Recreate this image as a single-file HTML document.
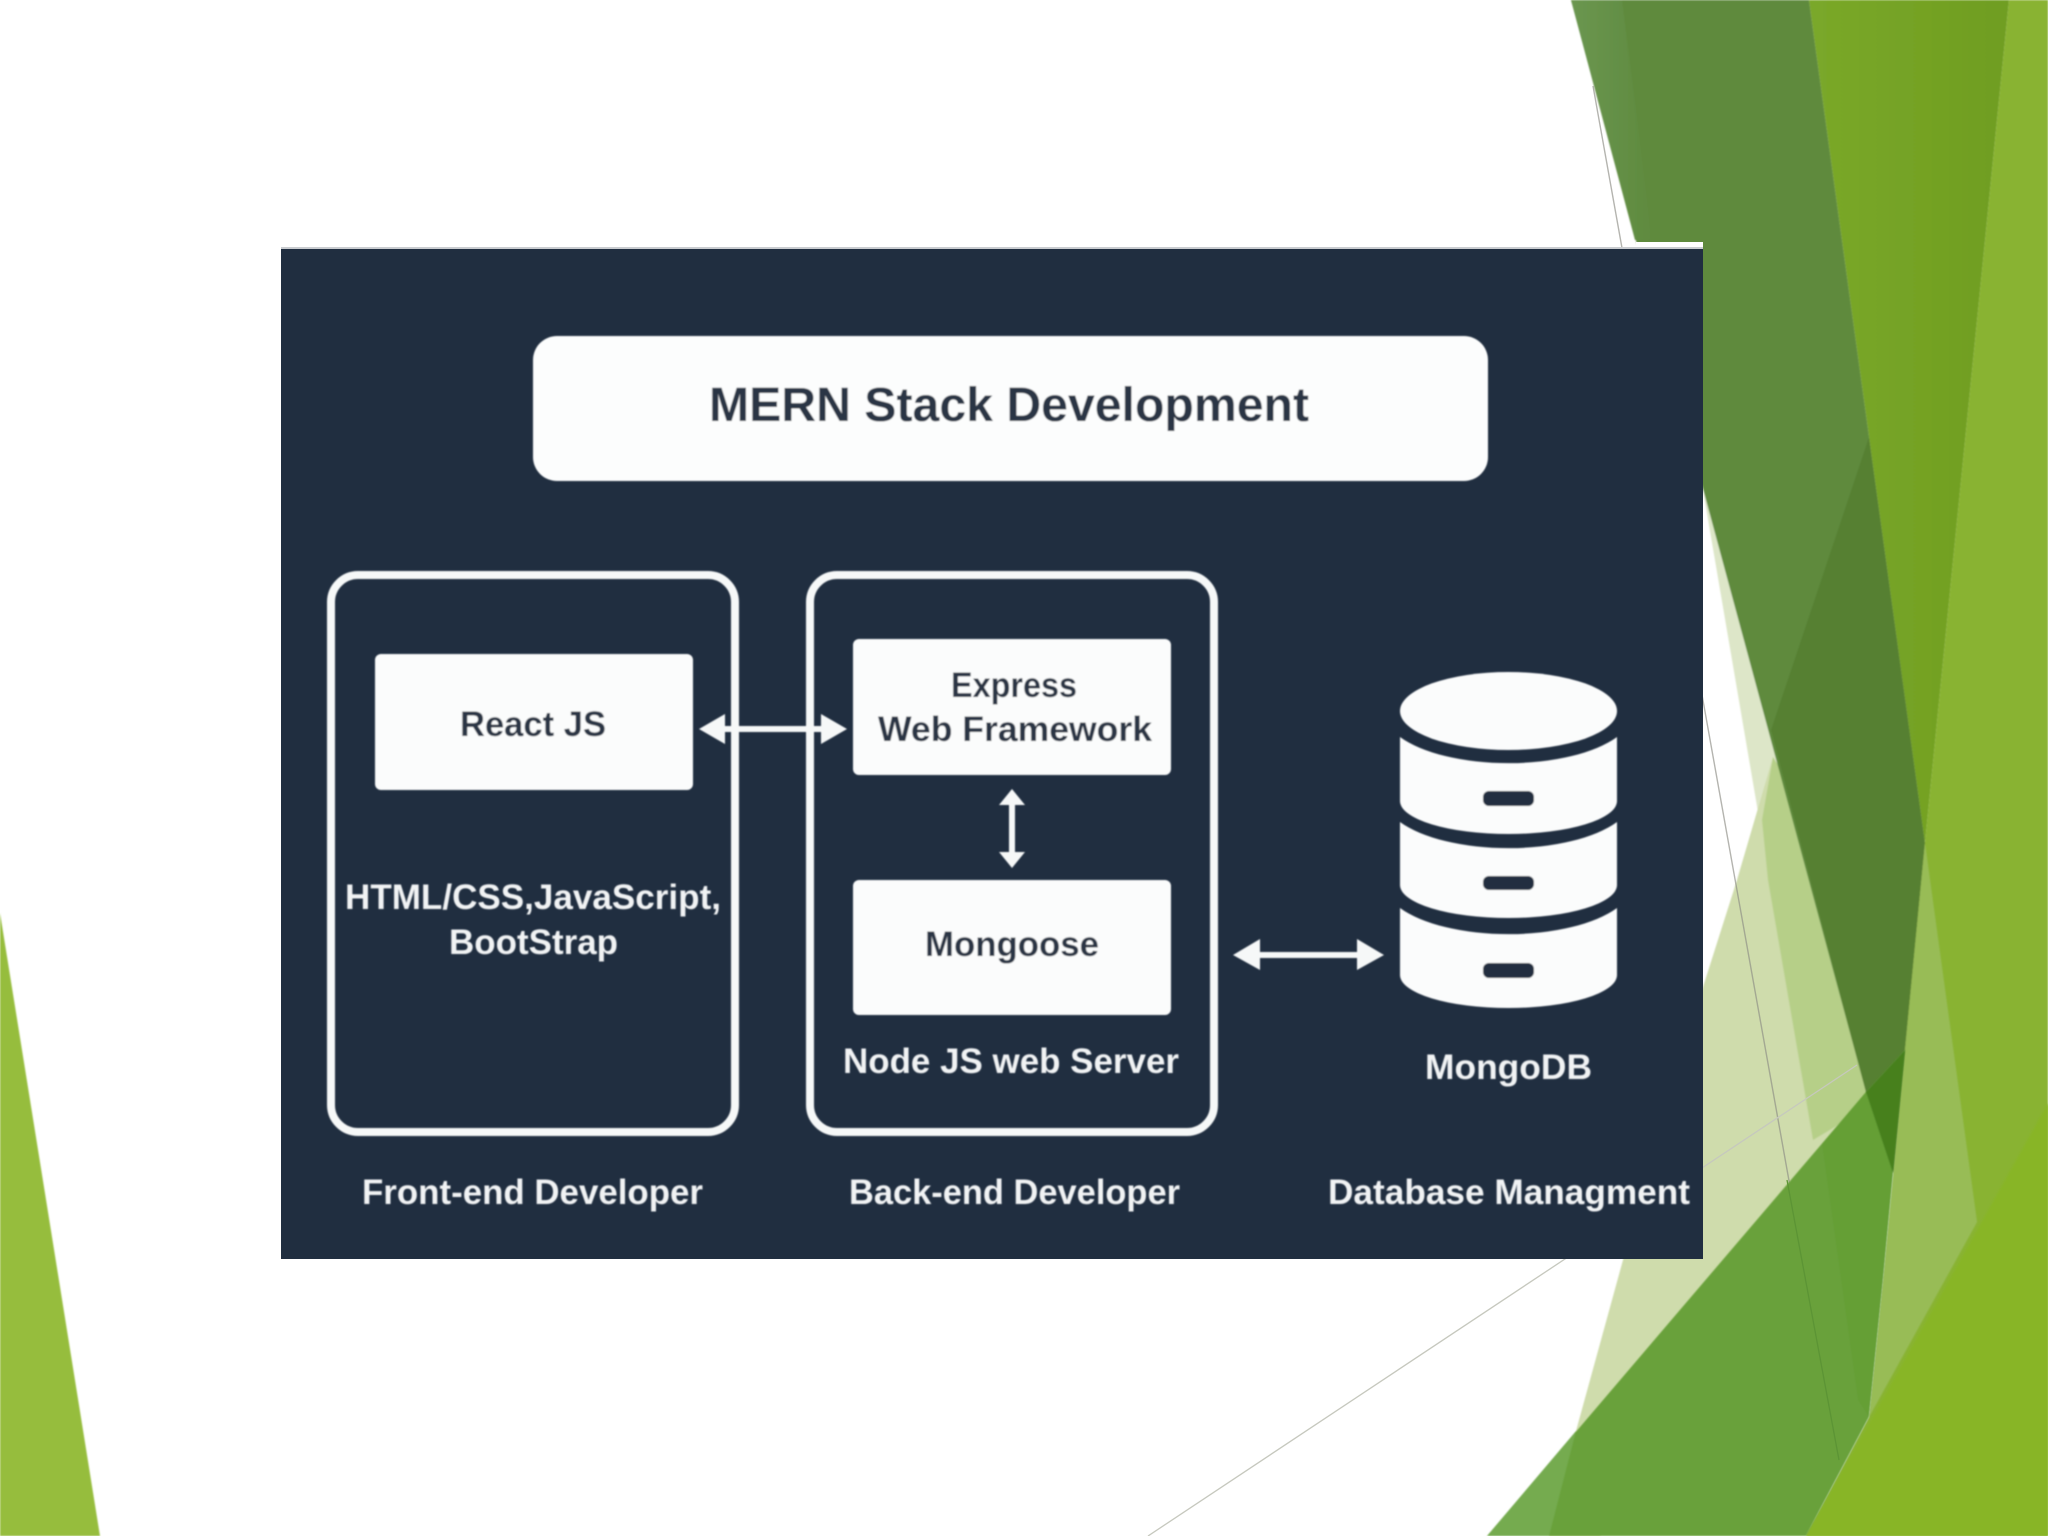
<!DOCTYPE html>
<html><head><meta charset="utf-8"><style>html,body{margin:0;padding:0;background:#fff;width:2048px;height:1536px;overflow:hidden}svg{display:block}text{font-family:"Liberation Sans",sans-serif;font-weight:700;text-anchor:start}</style></head><body>
<svg width="2048" height="1536" viewBox="0 0 2048 1536" xmlns="http://www.w3.org/2000/svg">
<defs>
<linearGradient id="mid" x1="0" y1="0" x2="1" y2="0"><stop offset="0" stop-color="#7aa829"/><stop offset="1" stop-color="#6f9d20"/></linearGradient>
<linearGradient id="band" x1="0" y1="0" x2="1" y2="0"><stop offset="0" stop-color="#6a9650"/><stop offset="1" stop-color="#5f8a3e"/></linearGradient>
<filter id="b" x="-10%" y="-10%" width="120%" height="120%"><feGaussianBlur stdDeviation="0.7"/></filter>
<filter id="s" x="-5%" y="-5%" width="110%" height="110%"><feGaussianBlur stdDeviation="0.8"/></filter>
</defs>
<rect width="2048" height="1536" fill="#fff"/>
<polygon points="0,913 100,1536 0,1536" fill="#96bd3c" filter="url(#s)"/>
<g filter="url(#s)">
<!-- pale -->
<polygon points="1703,490 1758,812 1795,800 1773,720" fill="#dde6c8"/>
<polygon points="1773,757 1737,880 1703,987 1623,1260 1576,1431 1549,1536 1600,1536 1880,1100" fill="#cfdcac"/>
<polygon points="1762,820 1768,880 1813,1140 1880,1100 1800,800 1773,757" fill="#b6cf88"/>
<!-- dark green -->
<polygon points="1571,0 1809,0 1925,843 1905,1050 1893,1173 1866,1092" fill="#5f8a3e"/>
<polygon points="1571,0 1622,0 1652,240 1635,240" fill="url(#band)"/>
<polygon points="1869,437 1925,843 1905,1050 1866,1092 1771,730" fill="#568030"/>
<!-- mid -->
<polygon points="1809,0 2009,0 1925,843" fill="url(#mid)"/>
<!-- lime -->
<polygon points="2009,0 2048,0 2048,1536 1806,1536 1869,1417 1883,1280 1905,1050 1925,843" fill="#89b331"/>
<polygon points="1925,843 1930,880 1977,1222 1869,1417 1883,1280 1905,1050" fill="#98bc57"/>
</g>
<!-- lines -->
<line x1="1593" y1="86" x2="1839" y2="1460" stroke="#8c8c84" stroke-opacity=".65" stroke-width="1.4"/>
<line x1="1857" y1="1065" x2="1148" y2="1536" stroke="#c6c8be" stroke-width="1.3"/>
<g filter="url(#s)">
<!-- triangle -->
<polygon points="1487,1536 1866,1092 1905,1050 1893,1173 1883,1280 1869,1417 1806,1536" fill="#69a13b"/>
<polygon points="1822,1144 1866,1092 1905,1050 1893,1173 1883,1280 1869,1417 1858,1400" fill="#659f36"/>
<polygon points="1487,1536 1576,1431 1549,1536" fill="#75ab4f"/>
<polygon points="1866,1092 1905,1050 1893,1173" fill="#47801e"/>
<polygon points="2048,1103 2048,1536 1806,1536" fill="#88b526"/>
</g>
<line x1="1787" y1="1180" x2="1839" y2="1460" stroke="#5c9435" stroke-width="1.3"/>
<!-- panel -->
<rect x="1636" y="242" width="67" height="8" fill="#fff"/>
<rect x="281" y="248" width="1422" height="1011" fill="#202e40"/>
<rect x="281" y="247" width="1422" height="2" fill="#c9ccd0"/>
<g filter="url(#b)">
<rect x="533" y="336" width="955" height="145" rx="24" fill="#fcfdfd"/>
<rect x="331" y="575" width="404" height="557" rx="27" fill="none" stroke="#f6f8f8" stroke-width="8"/>
<rect x="810" y="575" width="404" height="557" rx="27" fill="none" stroke="#f6f8f8" stroke-width="8"/>
<rect x="375" y="654" width="318" height="136" rx="6" fill="#fbfcfc"/>
<rect x="853" y="639" width="318" height="136" rx="6" fill="#fbfcfc"/>
<rect x="853" y="880" width="318" height="135" rx="6" fill="#fbfcfc"/>
<!-- arrows -->
<polygon points="699,729 725,714 725,726 821,726 821,714 847,729 821,744 821,732 725,732 725,744" fill="#f6f8f8"/>
<polygon points="1012,789 1025,805 1015,805 1015,852 1025,852 1012,868 999,852 1009,852 1009,805 999,805" fill="#f6f8f8"/>
<polygon points="1233,955 1260,939 1260,952 1357,952 1357,939 1384,955 1357,970 1357,958 1260,958 1260,970" fill="#f6f8f8"/>
<!-- database -->
<ellipse cx="1508.5" cy="711" rx="108.5" ry="39" fill="#fbfcfc"/>
<path d="M1400,737 A125 52 0 0 0 1617,737 V801 A108.5 33 0 0 1 1400,801 Z" fill="#fbfcfc"/>
<path d="M1400,822 A125 52 0 0 0 1617,822 V885 A108.5 33 0 0 1 1400,885 Z" fill="#fbfcfc"/>
<path d="M1400,908 A125 52 0 0 0 1617,908 V975 A108.5 33 0 0 1 1400,975 Z" fill="#fbfcfc"/>
<rect x="1483" y="791" width="51" height="15" rx="6" fill="#202e40"/>
<rect x="1483" y="876" width="51" height="14" rx="6" fill="#202e40"/>
<rect x="1483" y="963" width="51" height="15" rx="6" fill="#202e40"/>
<!-- text -->
<text x="709" y="421" font-size="48" textLength="600" lengthAdjust="spacingAndGlyphs" fill="#2b3545">MERN Stack Development</text>
<text x="460" y="736" font-size="35" textLength="146" lengthAdjust="spacingAndGlyphs" fill="#2b3545">React JS</text>
<text x="951" y="697" font-size="35" textLength="126" lengthAdjust="spacingAndGlyphs" fill="#2b3545">Express</text>
<text x="878" y="741" font-size="35" textLength="274" lengthAdjust="spacingAndGlyphs" fill="#2b3545">Web Framework</text>
<text x="925" y="956" font-size="35" textLength="174" lengthAdjust="spacingAndGlyphs" fill="#2b3545">Mongoose</text>
<text x="345" y="909" font-size="35" textLength="376" lengthAdjust="spacingAndGlyphs" fill="#f1f3f4">HTML/CSS,JavaScript,</text>
<text x="449" y="954" font-size="35" textLength="169" lengthAdjust="spacingAndGlyphs" fill="#f1f3f4">BootStrap</text>
<text x="843" y="1073" font-size="35" textLength="336" lengthAdjust="spacingAndGlyphs" fill="#f1f3f4">Node JS web Server</text>
<text x="362" y="1204" font-size="35" textLength="341" lengthAdjust="spacingAndGlyphs" fill="#f1f3f4">Front-end Developer</text>
<text x="849" y="1204" font-size="35" textLength="331" lengthAdjust="spacingAndGlyphs" fill="#f1f3f4">Back-end Developer</text>
<text x="1425" y="1079" font-size="35" textLength="167" lengthAdjust="spacingAndGlyphs" fill="#f1f3f4">MongoDB</text>
<text x="1328" y="1204" font-size="35" textLength="362" lengthAdjust="spacingAndGlyphs" fill="#f1f3f4">Database Managment</text>
</g>
</svg>
</body></html>
